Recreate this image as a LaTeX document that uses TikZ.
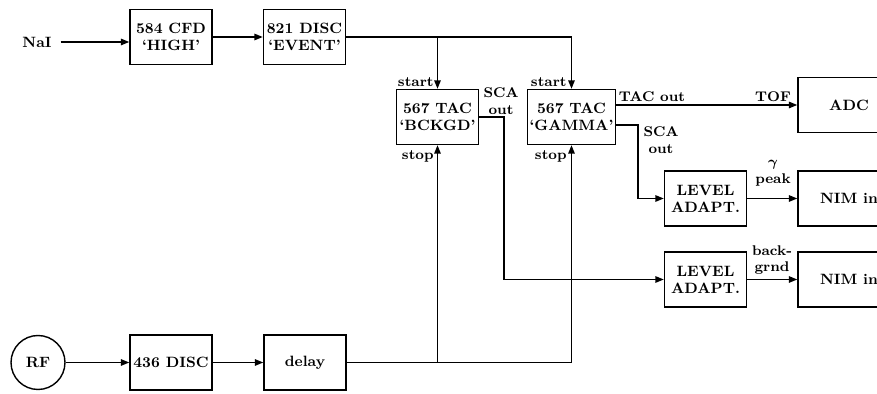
\documentclass[tikz,border=0pt]{standalone}
\usepackage{tikz}
\usetikzlibrary{arrows.meta,shapes.geometric}
\tikzset{
    bloco/.style={
        rectangle,
        draw,
        thick,
        align=center,
        inner sep=1pt,
        minimum width=1.64cm,
        minimum height=1.1cm,
        font=\bfseries\fontsize{8.5}{9.6}\selectfont
    },
    saida/.style={bloco, minimum width=2.04cm},
    fonte/.style={
        circle,
        draw,
        thick,
        inner sep=0pt,
        minimum size=1.08cm,
        font=\bfseries\fontsize{8.5}{9.6}\selectfont
    },
    rotulo/.style={
        inner sep=0pt,
        align=center,
        font=\bfseries\boldmath\fontsize{8}{9.6}\selectfont
    },
    fluxo/.style={-{Triangle[length=1.7mm,width=1.3mm]}, thick}
}

\begin{document}
\begin{tikzpicture}[x=0.02cm, y=-0.02cm]

        \useasboundingbox (0,0) rectangle (877,394);
        \clip (0,0) rectangle (877,394);

        \node[rotulo, inner xsep=5pt, font=\bfseries\fontsize{8.5}{9.6}\selectfont] (nai) at (37,42) {NaI};

        \node[bloco] (cfd) at (171,37) {584 CFD\\`HIGH'};
        \node[bloco] (disc821) at (304.5,37) {821 DISC\\`EVENT'};

        \node[bloco] (bckgd) at (437.5,117) {567 TAC\\`BCKGD'};
        \node[bloco] (gamma) at (571.5,117) {567 TAC\\`GAMMA'};

        \node[saida] (adc) at (849,105) {ADC};

        \node[bloco] (lvl1) at (705.5,198.5) {LEVEL\\ADAPT.};
        \node[saida] (nim1) at (849,198.5) {NIM in};

        \node[bloco] (lvl2) at (705.5,279.5) {LEVEL\\ADAPT.};
        \node[saida] (nim2) at (849,279.5) {NIM in};

        \node[fonte] (rf) at (38,362.5) {RF};
        \node[bloco] (disc436) at (171,362.5) {436 DISC};
        \node[bloco] (delay) at (305,362.5) {delay};

        \node[rotulo, anchor=east] (startb) at (434,82) {start};
        \node[rotulo, anchor=east] (startg) at (567,82) {start};
        \node[rotulo, anchor=east] (stopb) at (434,156) {stop};
        \node[rotulo, anchor=east] (stopg) at (567,156) {stop};

        \node[rotulo] (scab) at (501,101) {SCA\\out};
        \node[rotulo] (tacout) at (652,97) {TAC out};
        \node[rotulo] (tof) at (773,97) {TOF};
        \node[rotulo] (scag) at (661,140) {SCA\\out};
        \node[rotulo] (peak) at (773,173) {$\gamma$\\peak};
        \node[rotulo] (bkg) at (772,260) {back-\\grnd};

        \coordinate (gsca) at (638,125);
        \coordinate (bsca) at (504,200);

        \draw[fluxo] (nai) -- (nai -| cfd.west);
        \draw[fluxo] (cfd) -- (disc821);

        \draw[fluxo] (disc821.east) -| (bckgd.north);
        \draw[fluxo] (disc821.east) -| (gamma.north);

        \draw[fluxo] (rf) -- (disc436);
        \draw[fluxo] (disc436) -- (delay);

        \draw[fluxo] (delay.east) -| (bckgd.south);
        \draw[fluxo] (delay.east) -| (gamma.south);

        \draw[fluxo] (gamma.east |- adc) -- (adc.west);
        \draw[fluxo] (gamma.east |- gsca) -- (gsca) |- (lvl1.west);
        \draw[fluxo] (bckgd.east) -| (bsca) |- (lvl2.west);

        \draw[fluxo] (lvl1) -- (nim1);
        \draw[fluxo] (lvl2) -- (nim2);

    \end{tikzpicture}
\end{document}
